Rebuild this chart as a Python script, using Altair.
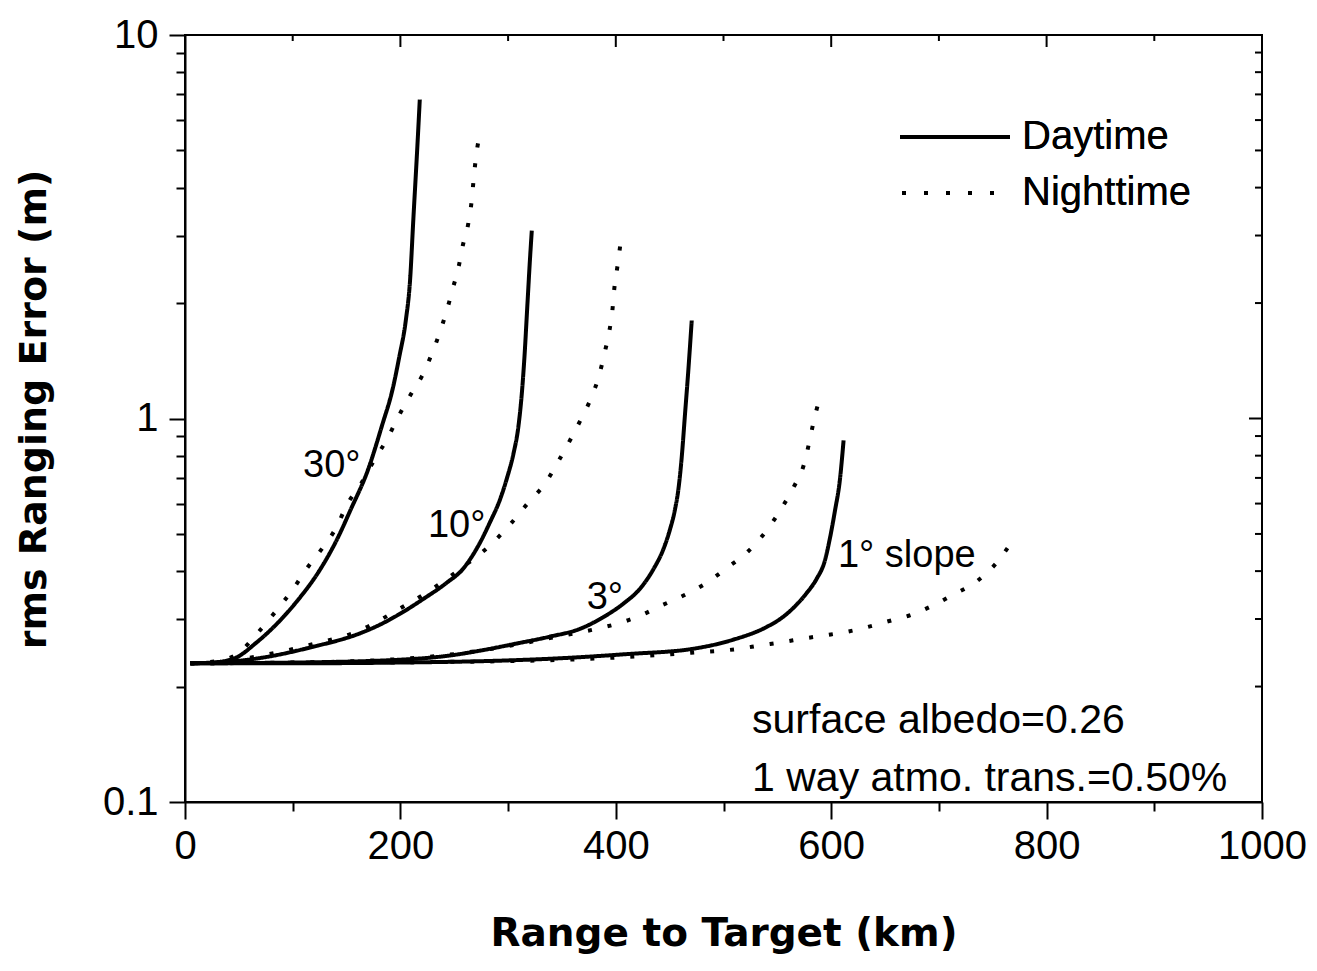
import altair as alt
import pandas as pd

# ---------------- data ----------------
day30_x = [5, 25, 46, 66, 85, 104, 125, 141, 154, 170, 183, 193, 199, 205, 209, 212, 216, 218]
day30_y = [0.23, 0.231, 0.237, 0.26, 0.291, 0.334, 0.402, 0.483, 0.58, 0.736, 0.96, 1.2, 1.45, 1.8, 2.3, 3.3, 5.28, 6.79]

night30_x = [5, 30, 50, 67, 85, 100, 113, 128, 141, 150, 164, 176, 188, 198, 210, 220, 229, 237, 243, 249, 254, 258, 263, 266, 268, 270, 273]
night30_y = [0.23, 0.233, 0.245, 0.275, 0.316, 0.358, 0.406, 0.461, 0.523, 0.593, 0.68, 0.782, 0.887, 1.01, 1.16, 1.29, 1.47, 1.69, 1.91, 2.2, 2.48, 2.83, 3.22, 3.66, 4.2, 4.76, 5.4]

day10_x = [5, 30, 68, 119, 162, 181, 200, 221, 243, 258, 266, 274, 283, 292.5, 299, 305, 309.5, 312.6, 315, 318, 320.3, 322]
day10_y = [0.23, 0.231, 0.237, 0.254, 0.275, 0.29, 0.31, 0.338, 0.373, 0.405, 0.435, 0.475, 0.535, 0.615, 0.70, 0.81, 0.95, 1.15, 1.42, 2.0, 2.6, 3.09]

night10_x = [5, 30, 68, 119, 162, 200, 230, 258, 282.5, 301, 318, 335, 346.6, 358.4, 368, 377.6, 384.7, 389.4, 394, 396.8, 398.6, 401.4, 404]
night10_y = [0.23, 0.231, 0.24, 0.258, 0.28, 0.32, 0.36, 0.41, 0.465, 0.526, 0.6, 0.681, 0.773, 0.887, 1.0, 1.14, 1.3, 1.475, 1.69, 1.91, 2.18, 2.48, 2.81]

day3_x = [5, 100, 200, 246, 277, 308, 339, 367, 388, 407, 422.5, 435, 444, 450, 455, 458, 461, 464.3, 467.3, 470.5]
day3_y = [0.23, 0.231, 0.235, 0.241, 0.249, 0.259, 0.27, 0.283, 0.303, 0.329, 0.36, 0.405, 0.455, 0.51, 0.58, 0.65, 0.78, 1.03, 1.33, 1.80]

night3_x = [5, 100, 200, 250, 300, 340, 382.5, 402, 422.5, 441, 462.4, 481.9, 502.3, 522.7, 541.3, 554.3, 565.5, 574.7, 579.4, 584, 588.7]
night3_y = [0.23, 0.231, 0.236, 0.243, 0.255, 0.268, 0.283, 0.292, 0.306, 0.324, 0.345, 0.369, 0.406, 0.45, 0.516, 0.586, 0.665, 0.759, 0.861, 0.99, 1.114]

day1_x = [5, 100, 200, 300, 348, 410, 472, 509, 540, 554, 564.5, 577, 586.5, 594, 599, 603.5, 608, 611.5]
day1_y = [0.23, 0.23, 0.231, 0.234, 0.237, 0.243, 0.251, 0.265, 0.286, 0.302, 0.32, 0.35, 0.382, 0.425, 0.49, 0.575, 0.689, 0.877]

night1_x = [5, 150, 300, 400, 470, 515, 534, 554, 575, 594, 615, 634, 653, 675, 694, 713, 734.5, 754, 768]
night1_y = [0.23, 0.231, 0.233, 0.238, 0.245, 0.251, 0.256, 0.261, 0.267, 0.272, 0.278, 0.286, 0.296, 0.308, 0.325, 0.347, 0.375, 0.422, 0.478]

time_labels = ["Daytime", "Nighttime"]

# curve labels (anchored in data units, left-aligned)
curve_label_text = ["30°", "10°", "3°", "1° slope"]
curve_label_x = [109.6, 225.6, 373, 606.3]
curve_label_y = [0.754, 0.526, 0.34, 0.439]

note_text = ["surface albedo=0.26", "1 way atmo. trans.=0.50%"]
note_x = [526.5, 526.5]
note_y = [0.163, 0.115]

x_tick_values = [0, 100, 200, 300, 400, 500, 600, 700, 800, 900, 1000]
y_tick_values = [0.1, 0.2, 0.3, 0.4, 0.5, 0.6, 0.7, 0.8, 0.9,
                 1, 2, 3, 4, 5, 6, 7, 8, 9, 10]
top_major = [200, 400, 600, 800]
top_minor = [100, 300, 500, 700, 900]
right_major = [1]
right_minor = [0.2, 0.3, 0.4, 0.5, 0.6, 0.7, 0.8, 0.9, 2, 3, 4, 5, 6, 7, 8, 9]

# ---------------- build table ----------------
series = [
    ("30", "Daytime", day30_x, day30_y),
    ("30", "Nighttime", night30_x, night30_y),
    ("10", "Daytime", day10_x, day10_y),
    ("10", "Nighttime", night10_x, night10_y),
    ("3", "Daytime", day3_x, day3_y),
    ("3", "Nighttime", night3_x, night3_y),
    ("1", "Daytime", day1_x, day1_y),
    ("1", "Nighttime", night1_x, night1_y),
]
rows = []
for slope, tod, xs, ys in series:
    for xv, yv in zip(xs, ys):
        rows.append({"range": xv, "err": yv, "time": tod, "series": slope + "-" + tod})
df = pd.DataFrame(rows)

W, H = 1077, 767
FONT = "Liberation Sans"
TFONT = "DejaVu Sans"
FS = 40

xscale = alt.Scale(domain=[0, 1000], nice=False, zero=False)
yscale = alt.Scale(type="log", domain=[0.1, 10], nice=False)

x_axis = alt.Axis(
    title="Range to Target (km)", values=x_tick_values, grid=False,
    labelExpr="datum.value % 200 === 0 ? datum.label : ''", format="d",
    labelOverlap=False, labelFlush=False, labelPadding=7,
    labelFont=FONT, labelFontSize=FS, labelColor="black",
    tickColor="black", tickWidth=2,
    tickSize={"condition": {"test": "datum.value % 200 === 0", "value": 17}, "value": 9},
    domainColor="black", domainWidth=2,
    titleFont=TFONT, titleFontSize=39, titleFontWeight="bold", titleColor="black",
    titleX=W / 2, titleY=143, titleAlign="center", titleBaseline="alphabetic",
)
major_y_test = "datum.value === 0.1 || datum.value === 1 || datum.value === 10"
y_axis = alt.Axis(
    title="rms Ranging Error (m)", values=y_tick_values, grid=False,
    labelExpr="datum.value === 0.1 ? '0.1' : datum.value === 1 ? '1' : datum.value === 10 ? '10' : ''",
    labelOverlap=False, labelFlush=False, labelPadding=11,
    labelFont=FONT, labelFontSize=FS, labelColor="black",
    tickColor="black", tickWidth=2,
    tickSize={"condition": {"test": major_y_test, "value": 16}, "value": 9},
    domainColor="black", domainWidth=2,
    titleFont=TFONT, titleFontSize=38, titleFontWeight="bold", titleColor="black",
    titleAngle=270, titleX=-140, titleY=374, titleAlign="center", titleBaseline="alphabetic",
)

lines = alt.Chart(df).mark_line(
    color="black", strokeWidth=4, interpolate="monotone", strokeCap="butt"
).encode(
    x=alt.X("range:Q", scale=xscale, axis=x_axis),
    y=alt.Y("err:Q", scale=yscale, axis=y_axis),
    strokeDash=alt.StrokeDash("time:N", scale=alt.Scale(domain=time_labels, range=[[1, 0], [4, 16]]), legend=None),
    detail="series:N",
    order="range:Q",
)

curve_labels = alt.Chart(pd.DataFrame({"range": curve_label_x, "err": curve_label_y, "txt": curve_label_text})).mark_text(
    align="left", baseline="middle", font=FONT, fontSize=38, color="black"
).encode(x=alt.X("range:Q", scale=xscale), y=alt.Y("err:Q", scale=yscale), text="txt:N")

notes = alt.Chart(pd.DataFrame({"range": note_x, "err": note_y, "txt": note_text})).mark_text(
    align="left", baseline="middle", font=FONT, fontSize=41, color="black"
).encode(x=alt.X("range:Q", scale=xscale), y=alt.Y("err:Q", scale=yscale), text="txt:N")

def top_ticks(vals, length):
    return alt.Chart(pd.DataFrame({"range": vals})).mark_rule(color="black", strokeWidth=2).encode(
        x=alt.X("range:Q", scale=xscale), y=alt.value(0), y2=alt.value(length))

def right_ticks(vals, length):
    return alt.Chart(pd.DataFrame({"err": vals})).mark_rule(color="black", strokeWidth=2).encode(
        y=alt.Y("err:Q", scale=yscale), x=alt.value(W), x2=alt.value(W - length))

# manual legend (top-right)
leg_df = pd.DataFrame({"t": time_labels})
leg_day_line = alt.Chart(leg_df).mark_rule(color="black", strokeWidth=4).encode(
    x=alt.value(715), x2=alt.value(825), y=alt.value(102))
leg_night_line = alt.Chart(leg_df).mark_rule(color="black", strokeWidth=4, strokeDash=[4, 18], strokeCap="butt").encode(
    x=alt.value(717), x2=alt.value(827), y=alt.value(158))
leg_day_txt = alt.Chart(leg_df).mark_text(align="left", baseline="middle", font=FONT, fontSize=FS, color="black").encode(
    x=alt.value(837), y=alt.value(102), text=alt.value(time_labels[0]))
leg_night_txt = alt.Chart(leg_df).mark_text(align="left", baseline="middle", font=FONT, fontSize=FS, color="black").encode(
    x=alt.value(837), y=alt.value(158), text=alt.value(time_labels[1]))

chart = alt.layer(
    lines, curve_labels, notes,
    top_ticks(top_major, 12), top_ticks(top_minor, 6),
    right_ticks(right_major, 13), right_ticks(right_minor, 7),
    leg_day_line, leg_night_line, leg_day_txt, leg_night_txt,
).properties(
    width=W, height=H,
    background="white",
    autosize=alt.AutoSizeParams(type="none"),
    padding={"left": 177, "top": 27, "right": 47, "bottom": 161},
).configure_view(stroke="black", strokeWidth=2)

chart.save("out.html", embed_options={"renderer": "svg", "actions": False})
